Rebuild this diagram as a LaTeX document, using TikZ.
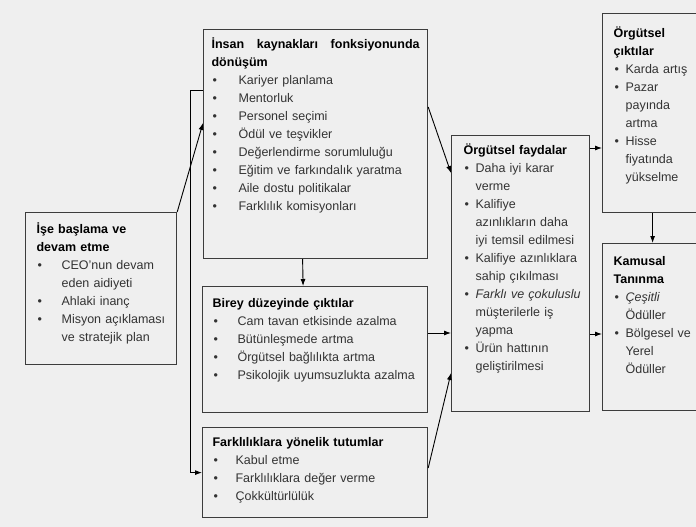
\documentclass[tikz,border=0pt]{standalone}
\usepackage{fontspec}
\setmainfont{Liberation Sans}
\usetikzlibrary{arrows.meta}
\definecolor{bg}{HTML}{EFEFEF}
\definecolor{edge}{HTML}{3C3C3C}
\definecolor{ink}{HTML}{333333}
% bullet line with hanging indent
\newcommand{\itm}[2][25pt]{\par\noindent\hangindent=#1\hangafter=1%
  \makebox[#1][l]{\hspace{1pt}\textbullet}#2\par}
\begin{document}
\begin{tikzpicture}[x=1pt,y=-1pt,>={Latex[length=7pt,width=5pt]},
        panel/.style={
        draw=edge, line width=1.2pt, fill=bg,
        rectangle, anchor=north west, inner ysep=0pt,
        text=ink, align=left,
        font=\fontsize{12.5}{18}\selectfont\raggedright},
        link/.style={->, draw=black, line width=0.9pt}]
        %frame
        \clip (0,0) rectangle (696,527);
        \fill[bg] (0,0) rectangle (696,527);
        %boxes
        \node (start) at (25,212) [panel, inner xsep=11pt, text width=129pt,
            text height=21pt, text depth=131pt]
            {{\bfseries\color{black}İşe başlama ve\newline devam etme}
            \itm{CEO’nun devam\newline eden aidiyeti}
            \itm{Ahlaki inanç}
            \itm{Misyon açıklaması\newline ve stratejik plan}};
        \node (ik) at (203,29) [panel, inner xsep=8pt, text width=208pt,
            text height=19pt, text depth=210pt]
            {{\bfseries\color{black}İnsan\hfill kaynakları\hfill fonksiyonunda\newline dönüşüm}
            \itm[27pt]{Kariyer planlama}
            \itm[27pt]{Mentorluk}
            \itm[27pt]{Personel seçimi}
            \itm[27pt]{Ödül ve teşvikler}
            \itm[27pt]{Değerlendirme sorumluluğu}
            \itm[27pt]{Eğitim ve farkındalık yaratma}
            \itm[27pt]{Aile dostu politikalar}
            \itm[27pt]{Farklılık komisyonları}};
        \node (birey) at (202,286) [panel, inner xsep=10pt, text width=205pt,
            text height=21pt, text depth=105pt]
            {{\bfseries\color{black}Birey düzeyinde çıktılar}
            \itm{Cam tavan etkisinde azalma}
            \itm{Bütünleşmede artma}
            \itm{Örgütsel bağlılıkta artma}
            \itm{Psikolojik uyumsuzlukta azalma}};
        \node (tutum) at (202,427) [panel, inner xsep=10pt, text width=205pt,
            text height=19pt, text depth=71pt]
            {{\bfseries\color{black}Farklılıklara yönelik tutumlar}
            \itm[23pt]{Kabul etme}
            \itm[23pt]{Farklılıklara değer verme}
            \itm[23pt]{Çokkültürlülük}};
        \node (fayda) at (451,135) [panel, inner xsep=12pt, text width=114pt,
            text height=19pt, text depth=257pt]
            {{\bfseries\color{black}Örgütsel faydalar}
            \itm[12pt]{Daha iyi karar\newline verme}
            \itm[12pt]{Kalifiye\newline azınlıkların daha\newline iyi temsil edilmesi}
            \itm[12pt]{Kalifiye azınlıklara\newline sahip çıkılması}
            \itm[12pt]{\mbox{\textit{Farklı ve çokuluslu}}\newline müşterilerle iş\newline yapma}
            \itm[12pt]{Ürün hattının\newline geliştirilmesi}};
        \node (cikti) at (602,13) [panel, inner xsep=11pt, text width=88pt,
            text height=24pt, text depth=175pt]
            {{\bfseries\color{black}Örgütsel\newline çıktılar}
            \itm[12pt]{Karda artış}
            \itm[12pt]{Pazar\newline payında\newline artma}
            \itm[12pt]{Hisse\newline fiyatında\newline yükselme}};
        \node (kamu) at (602,243) [panel, inner xsep=11pt, text width=88pt,
            text height=22pt, text depth=145pt]
            {{\bfseries\color{black}Kamusal\newline Tanınma}
            \itm[12pt]{\textit{Çeşitli}\newline Ödüller}
            \itm[12pt]{Bölgesel ve\newline Yerel\newline Ödüller}};
        %arrows
        \draw[link] (start.north east) -- ([yshift=-94pt]ik.north west);
        \draw[link] ([yshift=-61pt]ik.north west) -- ++(-13,0) |- (tutum.west);
        \draw[link] ([xshift=-13pt]ik.south) -- ([xshift=-12pt]birey.north);
        \draw[link] ([yshift=-78pt]ik.north east) -- ([yshift=-38pt]fayda.north west);
        \coordinate (b1) at ([yshift=-47pt]birey.north east);
        \draw[link] (b1) -- (b1 -| fayda.west);
        \draw[link] ([yshift=-41pt]tutum.north east) -- ([yshift=-238pt]fayda.north west);
        \coordinate (f1) at ([yshift=-13pt]fayda.north east);
        \draw[link] (f1) -- (f1 -| cikti.west);
        \coordinate (f2) at ([yshift=-199pt]fayda.north east);
        \draw[link] (f2) -- (f2 -| kamu.west);
        \draw[link] ([xshift=-5pt]cikti.south) -- ([xshift=-5pt]kamu.north);
\end{tikzpicture}
\end{document}
